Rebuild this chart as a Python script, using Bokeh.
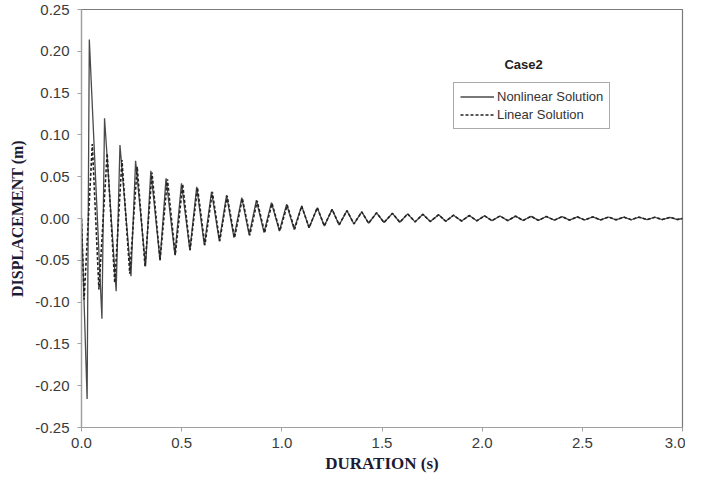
from bokeh.plotting import figure
from bokeh.models import ColumnDataSource, Legend, LegendItem, Label, FixedTicker, NumeralTickFormatter
from bokeh.embed import file_html
from bokeh.resources import INLINE

# ---- data ----
nonlinear_t = [0.000, 0.028, 0.039, 0.102, 0.115, 0.173, 0.192, 0.247, 0.270, 0.320,
               0.346, 0.392, 0.422, 0.466, 0.499, 0.541, 0.575, 0.613, 0.649, 0.688,
               0.724, 0.761, 0.800, 0.837, 0.873, 0.911, 0.948, 0.988, 1.024, 1.061,
               1.099, 1.136, 1.177, 1.212, 1.251, 1.286, 1.325, 1.360, 1.399, 1.433,
               1.473, 1.510, 1.552, 1.589, 1.628, 1.665, 1.704, 1.741, 1.783, 1.818,
               1.857, 1.897, 1.936, 1.973, 2.012, 2.049, 2.089, 2.128, 2.167, 2.204,
               2.244, 2.281, 2.320, 2.360, 2.399, 2.436, 2.475, 2.512, 2.552, 2.591,
               2.631, 2.668, 2.707, 2.744, 2.783, 2.823, 2.862, 2.899, 2.938, 2.975, 3.000]
nonlinear_y = [0.0, -0.216, 0.214, -0.120, 0.120, -0.087, 0.088, -0.069, 0.069, -0.057,
               0.057, -0.050, 0.048, -0.043, 0.042, -0.038, 0.038, -0.032, 0.032, -0.027,
               0.028, -0.023, 0.025, -0.020, 0.022, -0.017, 0.019, -0.015, 0.017, -0.0128,
               0.015, -0.011, 0.013, -0.009, 0.011, -0.0077, 0.0094, -0.0065, 0.008, -0.0057,
               0.0068, -0.0048, 0.0062, -0.0045, 0.0055, -0.0040, 0.0050, -0.0036, 0.0045, -0.0033,
               0.0040, -0.0030, 0.0036, -0.0028, 0.0032, -0.0026, 0.0030, -0.0025, 0.0028, -0.0024,
               0.0026, -0.0022, 0.0024, -0.0020, 0.0022, -0.0019, 0.0020, -0.0018, 0.0019, -0.0017,
               0.0018, -0.0016, 0.0017, -0.0015, 0.0016, -0.0014, 0.0015, -0.0013, 0.0014, -0.0012, 0.0]

linear_t = [0.000, 0.013, 0.054, 0.087, 0.128, 0.166, 0.202, 0.241, 0.278, 0.317,
            0.352, 0.392, 0.429, 0.468, 0.505, 0.542, 0.579, 0.616, 0.653, 0.690,
            0.727, 0.764, 0.803, 0.840, 0.877, 0.914, 0.951, 0.990, 1.027, 1.064,
            1.099, 1.136, 1.177, 1.212, 1.251, 1.286, 1.325, 1.360, 1.399, 1.433,
            1.473, 1.510, 1.552, 1.589, 1.628, 1.665, 1.704, 1.741, 1.783, 1.818,
            1.857, 1.897, 1.936, 1.973, 2.012, 2.049, 2.089, 2.128, 2.167, 2.204,
            2.244, 2.281, 2.320, 2.360, 2.399, 2.436, 2.475, 2.512, 2.552, 2.591,
            2.631, 2.668, 2.707, 2.744, 2.783, 2.823, 2.862, 2.899, 2.938, 2.975, 3.000]
linear_y = [0.0, -0.097, 0.089, -0.085, 0.078, -0.077, 0.070, -0.066, 0.062, -0.057,
            0.055, -0.050, 0.047, -0.044, 0.041, -0.038, 0.037, -0.032, 0.032, -0.027,
            0.027, -0.023, 0.024, -0.020, 0.021, -0.017, 0.018, -0.015, 0.016, -0.013,
            0.015, -0.011, 0.013, -0.009, 0.011, -0.0077, 0.0094, -0.0065, 0.008, -0.0057,
            0.0068, -0.0048, 0.0062, -0.0045, 0.0055, -0.0040, 0.0050, -0.0036, 0.0045, -0.0033,
            0.0040, -0.0030, 0.0036, -0.0028, 0.0032, -0.0026, 0.0030, -0.0025, 0.0028, -0.0024,
            0.0026, -0.0022, 0.0024, -0.0020, 0.0022, -0.0019, 0.0020, -0.0018, 0.0019, -0.0017,
            0.0018, -0.0016, 0.0017, -0.0015, 0.0016, -0.0014, 0.0015, -0.0013, 0.0014, -0.0012, 0.0]

x_ticks = [0.0, 0.5, 1.0, 1.5, 2.0, 2.5, 3.0]
y_ticks = [-0.25, -0.20, -0.15, -0.10, -0.05, 0.0, 0.05, 0.10, 0.15, 0.20, 0.25]

series_names = ["Nonlinear Solution", "Linear Solution"]
case_title = "Case2"

# ---- figure ----
p = figure(width=685, height=477, x_range=(0, 3), y_range=(-0.25, 0.25),
           output_backend="svg", toolbar_location=None,
           min_border_left=81, min_border_right=3, min_border_top=9, min_border_bottom=50)

p.background_fill_color = "white"
p.border_fill_color = "white"
p.outline_line_color = "#7a7a7a"
p.outline_line_width = 1.2
p.xgrid.visible = False
p.ygrid.visible = False

src_nl = ColumnDataSource(dict(t=nonlinear_t, y=nonlinear_y))
src_ln = ColumnDataSource(dict(t=linear_t, y=linear_y))

r_nl = p.line("t", "y", source=src_nl, line_color="#4a4a4a", line_width=1.3)
r_ln = p.line("t", "y", source=src_ln, line_color="#222222", line_width=1.6, line_dash="3 2")

for ax in (p.xaxis[0], p.yaxis[0]):
    ax.axis_line_color = "#a0a0a0"
    ax.axis_line_width = 1.2
    ax.major_tick_line_color = "#a0a0a0"
    ax.major_tick_out = 4
    ax.major_tick_in = 0
    ax.minor_tick_line_color = None
    ax.major_label_text_font = "Liberation Sans"
    ax.major_label_text_font_size = "15px"
    ax.major_label_text_color = "#3a3a3a"
    ax.axis_label_text_font = "Liberation Serif"
    ax.axis_label_text_font_style = "bold"
    ax.axis_label_text_color = "#1b1b33"

p.xaxis[0].ticker = FixedTicker(ticks=x_ticks)
p.xaxis[0].formatter = NumeralTickFormatter(format="0.0")
p.xaxis[0].axis_label = "DURATION (s)"
p.xaxis[0].axis_label_text_font_size = "17px"
p.xaxis[0].major_label_standoff = 6
p.xaxis[0].axis_label_standoff = 3

p.yaxis[0].ticker = FixedTicker(ticks=y_ticks)
p.yaxis[0].formatter = NumeralTickFormatter(format="0.00")
p.yaxis[0].axis_label = "DISPLACEMENT (m)"
p.yaxis[0].axis_label_text_font_size = "16px"
p.yaxis[0].major_label_standoff = 8
p.yaxis[0].axis_label_standoff = 6

legend = Legend(items=[LegendItem(label=series_names[0], renderers=[r_nl]),
                       LegendItem(label=series_names[1], renderers=[r_ln])],
                location=(372, 298), border_line_color="#555555", border_line_width=1.2,
                label_text_font="Liberation Sans", label_text_font_size="13px",
                label_text_color="#333333", glyph_width=34, glyph_height=13,
                spacing=3, padding=6, margin=0, label_standoff=3,
                label_height=15,
                background_fill_color="white", background_fill_alpha=1.0)
p.add_layout(legend)

p.add_layout(Label(x=2.207, y=0.184, text=case_title, text_align="center",
                   text_baseline="middle", text_font="Liberation Sans",
                   text_font_style="bold", text_font_size="13px", text_color="#222222"))

open("out.html", "w").write(file_html(p, INLINE))
